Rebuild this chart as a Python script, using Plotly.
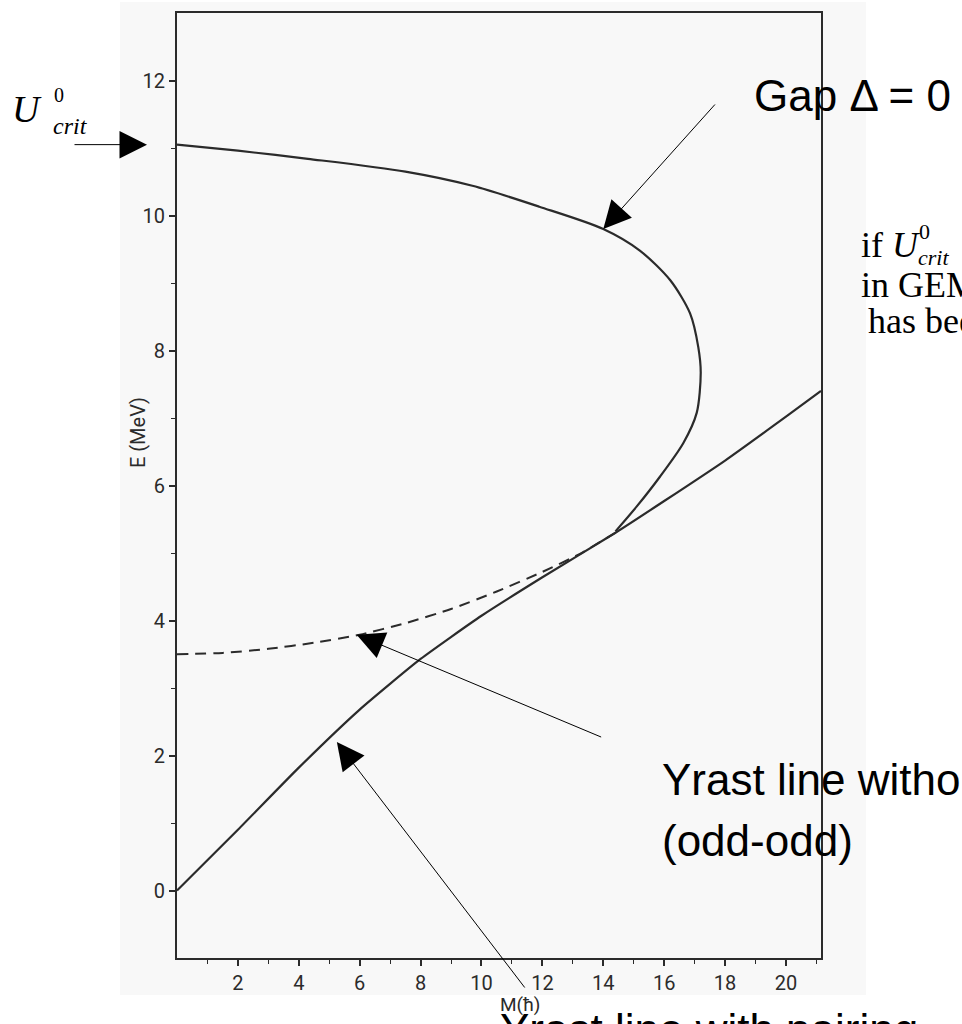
import plotly.graph_objects as go

# Gap Δ = 0 curve: pairing collapse energy vs spin, folding back at high M
gap_m = [0, 2, 4.3, 7.5, 9.7, 11.9, 14.0, 15.2, 16.2, 16.85, 17.12, 17.2, 17.07, 16.63, 15.86, 15.1, 14.4]
gap_e = [11.05, 10.96, 10.84, 10.65, 10.44, 10.13, 9.80, 9.48, 9.04, 8.55, 8.05, 7.67, 7.08, 6.63, 6.13, 5.69, 5.32]

# Yrast line with pairing (solid)
pair_m = [0, 2, 4, 6, 8, 10, 12, 14.4, 16, 18, 20, 21.15]
pair_e = [0, 0.9, 1.82, 2.68, 3.43, 4.07, 4.64, 5.3, 5.77, 6.37, 7.02, 7.4]

# Yrast line without pairing (dashed, odd-odd)
nopair_m = [0, 1.5, 3, 4.5, 6, 7.5, 9, 10.5, 12, 13.2, 14.4]
nopair_e = [3.5, 3.52, 3.58, 3.67, 3.79, 3.96, 4.17, 4.43, 4.72, 4.98, 5.3]

# critical energy at M = 0
u_crit = 11.05

x_major = [2, 4, 6, 8, 10, 12, 14, 16, 18, 20]
x_labels = [str(v) for v in x_major]
x_minor = [1, 3, 5, 7, 9, 11, 13, 15, 17, 19, 21]
y_major = [0, 2, 4, 6, 8, 10, 12]
y_labels = [str(v) for v in y_major]
y_minor = [1, 3, 5, 7, 9, 11]

W, H = 962, 1024
ML, MR, MT, MB = 177, 141, 11, 66
PW, PH = W - ML - MR, H - MT - MB


def px(x):
    return (x - ML) / PW


def py(y):
    return (H - MB - y) / PH


INK = "#2b2b2b"
SCAN_BG = "#f8f8f8"
scan_font = "Roboto, DejaVu Sans, sans-serif"
tick_font = dict(family=scan_font, size=20, color=INK)
sans = "Liberation Sans, Arial, sans-serif"
serif = "Liberation Serif, Times New Roman, serif"

fig = go.Figure()
fig.add_trace(go.Scatter(x=gap_m, y=gap_e, mode="lines",
                         line=dict(color=INK, width=2.2, shape="spline", smoothing=0.8),
                         hoverinfo="skip", showlegend=False))
fig.add_trace(go.Scatter(x=pair_m, y=pair_e, mode="lines",
                         line=dict(color=INK, width=2.2, shape="spline", smoothing=0.5),
                         hoverinfo="skip", showlegend=False))
fig.add_trace(go.Scatter(x=nopair_m, y=nopair_e, mode="lines",
                         line=dict(color=INK, width=2, dash="11px,7px", shape="spline", smoothing=0.6),
                         hoverinfo="skip", showlegend=False))

axis_common = dict(showline=True, mirror=True, linecolor=INK, linewidth=2.2,
                   ticks="outside", ticklen=6, tickwidth=1.5, tickcolor=INK,
                   showgrid=False, zeroline=False, tickfont=tick_font)

fig.update_xaxes(range=[0, 21.15], tickvals=x_major, ticktext=x_labels,
                 minor=dict(tickvals=x_minor, ticks="outside", ticklen=4, tickcolor=INK, tickwidth=1.2),
                 **axis_common)
fig.update_yaxes(range=[-1, 13], tickvals=y_major, ticktext=y_labels,
                 minor=dict(tickvals=y_minor, ticks="outside", ticklen=4, tickcolor=INK, tickwidth=1.2),
                 **axis_common)

ann = []


def label(text, x, y, size, family, xanchor="left", color="black", **kw):
    ann.append(dict(text=text, xref="paper", yref="paper", x=px(x), y=py(y),
                    xanchor=xanchor, yanchor="middle", showarrow=False,
                    font=dict(size=size, family=family, color=color), **kw))


def arrow(x, y, ax, ay, xref="x", yref="y"):
    ann.append(dict(text="", x=x, y=y, xref=xref, yref=yref, ax=ax, ay=ay,
                    showarrow=True, arrowhead=2, arrowsize=5.5, arrowwidth=1,
                    arrowcolor="black", standoff=0, startstandoff=0))


# axis titles in the scanned style
label("E (MeV)", 138, 432, 20, scan_font, xanchor="center", color=INK, textangle=-90)
label("M(ħ)", 520, 1005, 19, scan_font, xanchor="center", color=INK)

# U_crit label on the left
label("<i>U</i>", 27, 107, 38, serif, xanchor="center")
label("0", 52, 93, 20, serif)
label("<i>crit</i>", 51, 124, 24, serif)
arrow(px(147), u_crit, -74, 0, xref="paper")

# Gap Δ = 0
label("Gap Δ = 0", 752, 94, 44, sans)
arrow(14.0, 9.80, 113, -126)

# note on the right
label("if <i>U</i>", 859, 243, 36, serif)
label("0", 917, 230, 22, serif)
label("<i>crit</i>", 916, 256, 22, serif)
label("in GEMINI", 859, 284, 36, serif)
label("has been", 866, 320, 36, serif)

# yrast labels
label("Yrast line without pairing", 660, 779, 44, sans)
label("(odd-odd)", 660, 840, 44, sans)
arrow(5.9, 3.79, 246, 103)

label("Yrast line with pairing", 498, 1030, 44, sans)
arrow(5.25, 2.2, 189, 247)

fig.update_layout(
    width=W, height=H,
    margin=dict(l=ML, r=MR, t=MT, b=MB, pad=0),
    paper_bgcolor="white", plot_bgcolor=SCAN_BG,
    annotations=ann,
    shapes=[dict(type="rect", xref="paper", yref="paper",
                 x0=px(120), x1=px(866), y0=py(995), y1=py(0),
                 fillcolor=SCAN_BG, line=dict(width=0), layer="below")],
)

fig.write_html("out.html")
